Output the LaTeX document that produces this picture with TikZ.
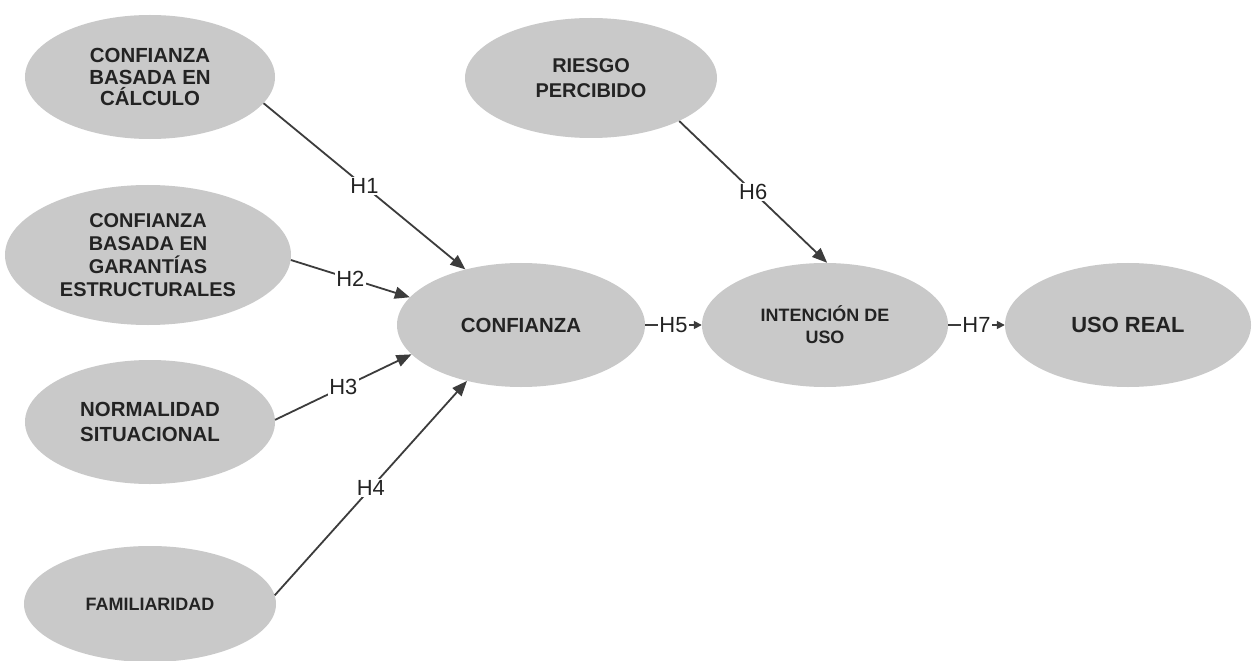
\documentclass[tikz,border=0pt]{standalone}
\usepackage{fontspec}
\setmainfont{Liberation Sans}
\usetikzlibrary{shapes.geometric,arrows.meta}
\definecolor{ellfill}{RGB}{201,201,201}
\definecolor{linecol}{RGB}{60,60,60}
\definecolor{txtcol}{RGB}{35,35,35}
\tikzset{
  construct/.style={ellipse, fill=ellfill, draw=none, inner sep=0pt, align=center,
    text=txtcol, font=\bfseries\fontsize{20.5}{22}\selectfont},
  hyp/.style={draw=linecol, line width=1.8bp, -{Triangle[length=15bp,width=12bp]}},
  hypshort/.style={draw=linecol, line width=1.6bp, -{Triangle[length=8bp,width=8bp]}},
  hlabel/.style={fill=white, inner sep=1.5bp, text=txtcol, font=\fontsize{22}{24}\selectfont}
}
\begin{document}
\begin{tikzpicture}[x=1bp,y=-1bp]
\useasboundingbox[fill=white] (0,0) rectangle (1252,661);
\node[construct, minimum width=250bp, minimum height=124bp] (calc) at (150,77)
  {CONFIANZA\\BASADA EN\\CÁLCULO};
\node[construct, minimum width=286bp, minimum height=140bp, font=\bfseries\fontsize{20}{23}\selectfont] (gar) at (148,255)
  {CONFIANZA\\BASADA EN\\GARANTÍAS\\ESTRUCTURALES};
\node[construct, minimum width=250bp, minimum height=124bp, font=\bfseries\fontsize{20.5}{25}\selectfont] (norm) at (150,422)
  {NORMALIDAD\\SITUACIONAL};
\node[construct, minimum width=252bp, minimum height=116bp, font=\bfseries\fontsize{18}{20}\selectfont] (fam) at (150,604)
  {FAMILIARIDAD};
\node[construct, minimum width=248bp, minimum height=124bp, font=\bfseries\fontsize{20.5}{22}\selectfont] (conf) at (521,325)
  {CONFIANZA};
\node[construct, minimum width=252bp, minimum height=120bp, font=\bfseries\fontsize{20}{25}\selectfont] (riesgo) at (591,78)
  {RIESGO\\PERCIBIDO};
\node[construct, minimum width=246bp, minimum height=124bp, font=\bfseries\fontsize{18}{22}\selectfont] (int) at (825,325)
  {INTENCIÓN DE\\USO};
\node[construct, minimum width=246bp, minimum height=124bp, font=\bfseries\fontsize{22}{24}\selectfont] (uso) at (1128,325)
  {USO REAL};

\draw[hyp] (calc.-13) -- node[hlabel]{H1} (conf.135);
\draw[hyp] (gar.-2) -- node[hlabel]{H2} (conf.166);
\draw[hyp] (norm.1) -- node[hlabel]{H3} (conf.195);
\draw[hyp] (fam.4) -- node[hlabel]{H4} (conf.226);
\draw[hypshort] (conf.east) -- node[hlabel, inner sep=1bp]{H5} (int.west);
\draw[hyp] (riesgo.-26) -- node[hlabel]{H6} (int.88);
\draw[hypshort] (int.east) -- node[hlabel, inner sep=1bp]{H7} (uso.west);
\end{tikzpicture}
\end{document}
